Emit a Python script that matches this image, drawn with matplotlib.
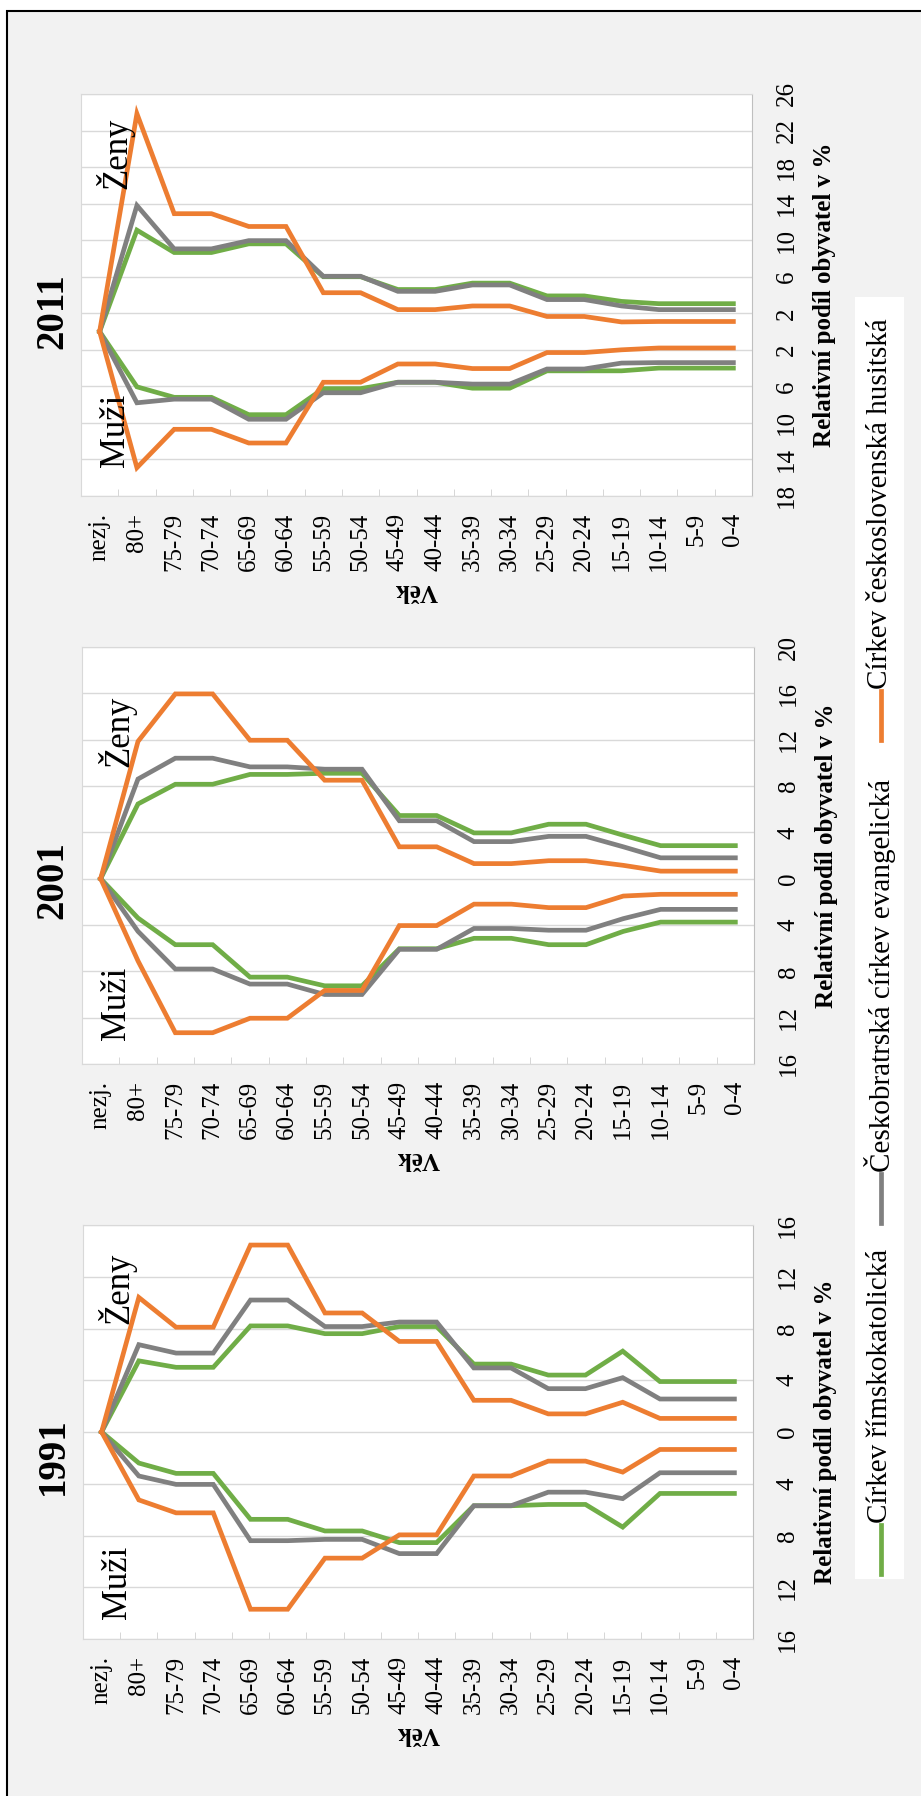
import matplotlib.pyplot as plt
from matplotlib.patches import Rectangle
import numpy as np

plt.rcParams['font.family'] = ['Liberation Serif', 'DejaVu Serif']

W, H = 921, 1796

age_groups = ['nezj.', '80+', '75-79', '70-74', '65-69', '60-64', '55-59', '50-54',
              '45-49', '40-44', '35-39', '30-34', '25-29', '20-24', '15-19', '10-14',
              '5-9', '0-4']
churches = ['Církev římskokatolická', 'Českobratrská církev evangelická',
            'Církev československá husitská']
colors = ['#70AD47', '#808080', '#ED7D31']

# relative share in %, men given as positive numbers (drawn below zero)
rk_1991_zeny = [0, 5.5, 5.0, 5.0, 8.2, 8.2, 7.6, 7.6, 8.15, 8.15, 5.25, 5.25, 4.4, 4.4, 6.25, 3.9, 3.9, 3.9]
rk_1991_muzi = [0, 2.4, 3.2, 3.2, 6.75, 6.75, 7.65, 7.65, 8.55, 8.55, 5.7, 5.7, 5.6, 5.6, 7.35, 4.75, 4.75, 4.75]
ce_1991_zeny = [0, 6.75, 6.1, 6.1, 10.2, 10.2, 8.15, 8.15, 8.5, 8.5, 4.95, 4.95, 3.35, 3.35, 4.2, 2.55, 2.55, 2.55]
ce_1991_muzi = [0, 3.4, 4.05, 4.05, 8.4, 8.4, 8.3, 8.3, 9.4, 9.4, 5.7, 5.7, 4.65, 4.65, 5.15, 3.15, 3.15, 3.15]
cch_1991_zeny = [0, 10.4, 8.1, 8.1, 14.45, 14.45, 9.2, 9.2, 7.0, 7.0, 2.45, 2.45, 1.4, 1.4, 2.3, 1.05, 1.05, 1.05]
cch_1991_muzi = [0, 5.25, 6.25, 6.25, 13.7, 13.7, 9.75, 9.75, 7.95, 7.95, 3.4, 3.4, 2.25, 2.25, 3.1, 1.35, 1.35, 1.35]

rk_2001_zeny = [0, 6.45, 8.15, 8.15, 9.0, 9.0, 9.1, 9.1, 5.45, 5.45, 3.95, 3.95, 4.7, 4.7, 3.75, 2.85, 2.85, 2.85]
rk_2001_muzi = [0, 3.4, 5.7, 5.7, 8.5, 8.5, 9.25, 9.25, 6.05, 6.05, 5.15, 5.15, 5.7, 5.7, 4.55, 3.75, 3.75, 3.75]
ce_2001_zeny = [0, 8.6, 10.4, 10.4, 9.65, 9.65, 9.45, 9.45, 5.0, 5.0, 3.2, 3.2, 3.65, 3.65, 2.75, 1.8, 1.8, 1.8]
ce_2001_muzi = [0, 4.55, 7.8, 7.8, 9.1, 9.1, 10.0, 10.0, 6.1, 6.1, 4.3, 4.3, 4.45, 4.45, 3.45, 2.65, 2.65, 2.65]
cch_2001_zeny = [0, 11.85, 15.95, 15.95, 11.95, 11.95, 8.5, 8.5, 2.75, 2.75, 1.3, 1.3, 1.55, 1.55, 1.15, 0.65, 0.65, 0.65]
cch_2001_muzi = [0, 7.1, 13.3, 13.3, 12.05, 12.05, 9.65, 9.65, 4.05, 4.05, 2.2, 2.2, 2.5, 2.5, 1.5, 1.35, 1.35, 1.35]

rk_2011_zeny = [0, 11.1, 8.65, 8.65, 9.6, 9.6, 6.0, 6.0, 4.6, 4.6, 5.3, 5.3, 3.9, 3.9, 3.3, 3.05, 3.05, 3.05]
rk_2011_muzi = [0, 6.05, 7.2, 7.2, 9.1, 9.1, 6.25, 6.25, 5.55, 5.55, 6.2, 6.2, 4.3, 4.3, 4.3, 4.0, 4.0, 4.0]
ce_2011_zeny = [0, 13.8, 9.05, 9.05, 9.95, 9.95, 6.05, 6.05, 4.4, 4.4, 5.1, 5.1, 3.5, 3.5, 2.8, 2.4, 2.4, 2.4]
ce_2011_muzi = [0, 7.8, 7.4, 7.4, 9.6, 9.6, 6.7, 6.7, 5.55, 5.55, 5.75, 5.75, 4.1, 4.1, 3.45, 3.4, 3.4, 3.4]
cch_2011_zeny = [0, 23.85, 12.9, 12.9, 11.5, 11.5, 4.25, 4.25, 2.4, 2.4, 2.8, 2.8, 1.65, 1.65, 1.05, 1.1, 1.1, 1.1]
cch_2011_muzi = [0, 14.9, 10.7, 10.7, 12.2, 12.2, 5.55, 5.55, 3.55, 3.55, 4.05, 4.05, 2.3, 2.3, 2.0, 1.8, 1.8, 1.8]

years = ['1991', '2001', '2011']
zeny = {'1991': [rk_1991_zeny, ce_1991_zeny, cch_1991_zeny],
        '2001': [rk_2001_zeny, ce_2001_zeny, cch_2001_zeny],
        '2011': [rk_2011_zeny, ce_2011_zeny, cch_2011_zeny]}
muzi = {'1991': [rk_1991_muzi, ce_1991_muzi, cch_1991_muzi],
        '2001': [rk_2001_muzi, ce_2001_muzi, cch_2001_muzi],
        '2011': [rk_2011_muzi, ce_2011_muzi, cch_2011_muzi]}
y_ranges = {'1991': (-16, 16), '2001': (-16, 20), '2011': (-18, 26)}

# layout in pixels: x0, top, x1, bottom
boxes = {'2011': (81, 94, 752, 496), '2001': (82, 647, 754, 1064), '1991': (83, 1225, 753, 1639)}
title_pos = {'2011': (53, 311), '2001': (53, 880), '1991': (53, 1456)}
zeny_y = {'2011': 19.5, '2001': 12.7, '1991': 11.1}
muzi_y = {'2011': -10.8, '2001': -10.8, '1991': -11.6}

fig = plt.figure(figsize=(W / 100, H / 100), dpi=100)
fig.patch.set_facecolor('white')
fig.add_artist(Rectangle((7 / W, -0.05), 1.1, 1.05 - 11 / H, transform=fig.transFigure,
                         facecolor='#F2F2F2', edgecolor='black', lw=1.5, zorder=-10))

x = np.arange(len(age_groups))
for year in years:
    x0, top, x1, bottom = boxes[year]
    ax = fig.add_axes([x0 / W, 1 - bottom / H, (x1 - x0) / W, (bottom - top) / H])
    ax.set_facecolor('white')
    for i in range(3):
        ax.plot(x, zeny[year][i], color=colors[i], lw=3.4, solid_joinstyle='miter')
        ax.plot(x, -np.array(muzi[year][i]), color=colors[i], lw=3.4, solid_joinstyle='miter')
    lo, hi = y_ranges[year]
    ax.set_xlim(-0.5, len(age_groups) - 0.5)
    ax.set_ylim(lo, hi)
    ticks = np.arange(lo, hi + 1, 4)
    ax.yaxis.tick_right()
    ax.set_yticks(ticks, labels=[str(abs(t)) for t in ticks], rotation=90, va='center', fontsize=18)
    ax.tick_params(axis='y', length=0, pad=17)
    ax.set_xticks(x, labels=age_groups, rotation=90, fontsize=18)
    ax.set_xticks(x[:-1] + 0.5, minor=True)
    ax.tick_params(axis='x', which='major', length=0, pad=12)
    ax.tick_params(axis='x', which='minor', direction='in', length=5, color='#D0D0D0')
    ax.grid(axis='y', color='#D9D9D9', lw=1)
    ax.set_axisbelow(True)
    for s in ax.spines.values():
        s.set_color('#D9D9D9')
    ax.spines['right'].set_color('#BFBFBF')
    ax.yaxis.set_label_position('right')
    ax.set_ylabel('Relativní podíl obyvatel v %', fontsize=18, fontweight='bold', labelpad=11)
    ax.set_xlabel('Věk', fontsize=18, fontweight='bold', rotation=180, labelpad=6)
    ax.text(0.42, zeny_y[year], 'Ženy', rotation=90, fontsize=25, ha='center', va='center')
    ax.text(0.42, muzi_y[year], 'Muži', rotation=90, fontsize=25, ha='center', va='center')
    tx, ty = title_pos[year]
    fig.text(tx / W, 1 - ty / H, year, rotation=90, fontsize=28, fontweight='bold',
             ha='center', va='center')

# legend, drawn rotated like the rest of the chart
lx0, ltop, lx1, lbottom = 855, 297, 904, 1579
lax = fig.add_axes([lx0 / W, 1 - lbottom / H, (lx1 - lx0) / W, (lbottom - ltop) / H])
lax.set_facecolor('white')
lax.set_xlim(lx0, lx1)
lax.set_ylim(lbottom, ltop)
lax.set_xticks([])
lax.set_yticks([])
for s in lax.spines.values():
    s.set_visible(False)
handle_starts = [1574, 1223, 740]
for name, color, y0 in zip(churches, colors, handle_starts):
    lax.plot([881, 881], [y0, y0 - 49], color=color, lw=3.4)
    lax.text(880, y0 - 51, name, rotation=90, rotation_mode='anchor', ha='left',
             va='center', fontsize=21)

fig.savefig('out.png', dpi=100)
